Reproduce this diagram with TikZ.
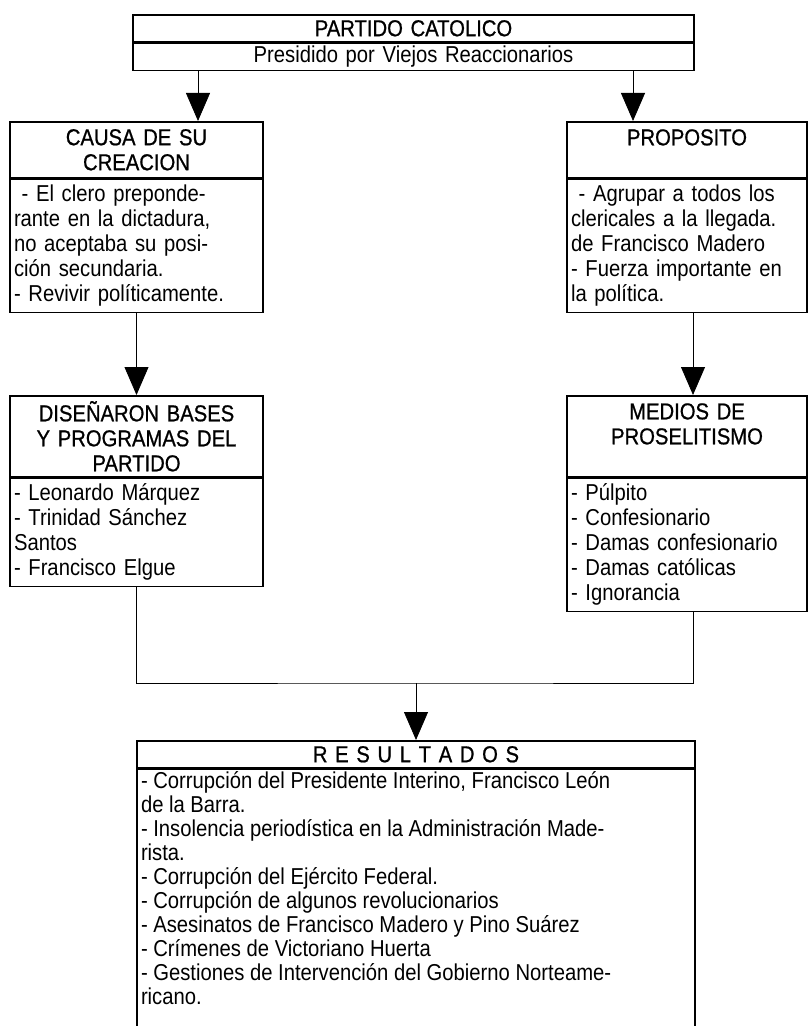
\documentclass[tikz,border=0pt]{standalone}
\usepackage{fontspec}
\setmainfont[FakeStretch=0.88]{Liberation Sans}
\newfontfamily\titfont[FakeStretch=0.88,FakeBold=0.8]{Liberation Sans}
\usetikzlibrary{arrows.meta,positioning}

\begin{document}
\begin{tikzpicture}[x=0.5pt,y=-0.5pt,
  caja/.style={draw, line width=0.8pt, inner xsep=2pt, inner ysep=1pt,
    font=\fontsize{11.5}{12.5}\selectfont},
  titulo/.style={caja, align=center, text width=#1, font=\fontsize{11.5}{12.5}\titfont},
  cuerpo/.style={caja, align=left, text width=#1},
  linea/.style={line width=0.4pt},
  flecha/.style={linea, -{Triangle[width=12pt,length=14pt]}}]
\useasboundingbox (0,0) rectangle (808,1026);

% partido
\node[titulo=276.5pt, minimum height=13.5pt, anchor=north] (partido) at (413.5,14) {PARTIDO CATOLICO};
\node[cuerpo=276.5pt, align=center, minimum height=13.5pt, below=0pt of partido] (presidido) {Presidido por Viejos Reaccionarios};

% primera fila
\node[titulo=122.5pt, minimum height=28pt, anchor=north] (causa) at (136.5,121) {CAUSA DE SU\\CREACION};
\node[cuerpo=122.5pt, minimum height=66.5pt, below=0pt of causa] (causatxt) {\ - El clero preponde-\\rante en la dictadura,\\no aceptaba su posi-\\ción secundaria.\\- Revivir políticamente.};
\node[titulo=116pt, minimum height=28pt, anchor=north] (proposito) at (687,121) {PROPOSITO\\~};
\node[cuerpo=116pt, minimum height=66.5pt, below=0pt of proposito] (propositotxt) {\ - Agrupar a todos los\\clericales a la llegada.\\de Francisco Madero\\- Fuerza importante en\\la política.};

% segunda fila
\node[titulo=122.5pt, minimum height=40.5pt, anchor=north] (disenaron) at (136.5,395) {DISEÑARON BASES\\Y PROGRAMAS DEL\\PARTIDO};
\node[cuerpo=122.5pt, minimum height=54pt, below=0pt of disenaron] (disenarontxt) {- Leonardo Márquez\\- Trinidad Sánchez\\Santos\\- Francisco Elgue};
\node[titulo=116pt, minimum height=40.5pt, anchor=north] (medios) at (687,395) {MEDIOS DE\\PROSELITISMO\\~};
\node[cuerpo=116pt, minimum height=66.5pt, below=0pt of medios] (mediostxt) {- Púlpito\\- Confesionario\\- Damas confesionario\\- Damas católicas\\- Ignorancia};

% resultados
\node[titulo=275pt, minimum height=13.5pt, anchor=north] (resultados) at (416,740) {R E S U L T A D O S};
\node[caja, below=0pt of resultados] (resultadostxt) {\parbox[t][134pt][t]{275pt}{\raggedright\baselineskip=12pt
- Corrupción del Presidente Interino, Francisco León\\de la Barra.\\- Insolencia periodística en la Administración Made-\\rista.\\- Corrupción del Ejército Federal.\\- Corrupción de algunos revolucionarios\\- Asesinatos de Francisco Madero y Pino Suárez\\- Crímenes de Victoriano Huerta\\- Gestiones de Intervención del Gobierno Norteame-\\ricano.}};

% flechas
\coordinate (izq) at (198,0);
\coordinate (der) at (633,0);
\coordinate (der2) at (693,0);
\coordinate (union) at (416,683);
\draw[flecha] (presidido.south -| izq) -- (causa.north -| izq);
\draw[flecha] (presidido.south -| der) -- (proposito.north -| der);
\draw[flecha] (causatxt.south) -- (disenaron.north);
\draw[flecha] (propositotxt.south -| der2) -- (medios.north -| der2);
\draw[linea] (disenarontxt.south) |- (union) -| (mediostxt.south -| der2);
\draw[flecha] (union) -- (resultados.north);
\end{tikzpicture}
\end{document}
